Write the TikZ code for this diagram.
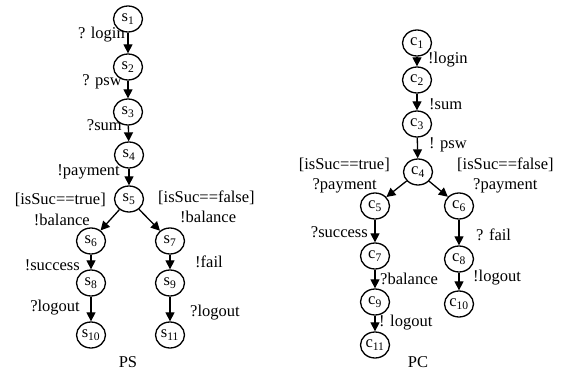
\documentclass[tikz,border=0pt]{standalone}
\usepackage{fontspec}
\setmainfont{Liberation Serif}
\usetikzlibrary{shapes.geometric,arrows.meta}
\begin{document}
\begin{tikzpicture}[
  x=1pt,y=-1pt,
  st/.style={ellipse,draw,line width=1.3pt,minimum width=29pt,minimum height=26pt,inner sep=0pt,font=\fontsize{16.5}{17}\selectfont},
  lbl/.style={inner sep=1pt,font=\fontsize{16.5}{18}\selectfont},
  tr/.style={-{Triangle[length=9pt,width=9pt]},line width=1.3pt}
]
\useasboundingbox (0,0) rectangle (571,374);

% PS
\node[st] (s1) at (128,19) {s\textsubscript{1}};
\node[st] (s2) at (128,67) {s\textsubscript{2}};
\node[st] (s3) at (128,112) {s\textsubscript{3}};
\node[st] (s4) at (129,155) {s\textsubscript{4}};
\node[st] (s5) at (129,199) {s\textsubscript{5}};
\node[st] (s6) at (91,241) {s\textsubscript{6}};
\node[st] (s7) at (170,241) {s\textsubscript{7}};
\node[st] (s8) at (91,283) {s\textsubscript{8}};
\node[st] (s9) at (170,283) {s\textsubscript{9}};
\node[st] (s10) at (91,335) {s\textsubscript{10}};
\node[st] (s11) at (170,335) {s\textsubscript{11}};

\node[lbl,anchor=east] (lLogin) at (126,35) {? login};
\node[lbl,anchor=east] (lPsw) at (123,82) {? psw};
\node[lbl,anchor=east] (lSum) at (123,125) {?sum};
\node[lbl,anchor=east] (lPay) at (121,172) {!payment};
\node[lbl,anchor=east] (lTrue) at (107,200) {[isSuc==true]};
\node[lbl,anchor=east] (lBalL) at (91,220) {!balance};
\node[lbl,anchor=west] (lFalse) at (157,198) {[isSuc==false]};
\node[lbl,anchor=west] (lBalR) at (179,217) {!balance};
\node[lbl,anchor=east] (lSucc) at (81,265) {!success};
\node[lbl,anchor=west] (lFail) at (194,262) {!fail};
\node[lbl,anchor=east] (lOutL) at (81,308) {?logout};
\node[lbl,anchor=west] (lOutR) at (189,313) {?logout};
\node[lbl] (ps) at (128,362) {PS};

\draw[tr] (s1) -- (s2);
\draw[tr] (s2) -- (s3);
\draw[tr] (s3) -- (s4);
\draw[tr] (s4) -- (s5);
\draw[tr] (s5) -- (s6);
\draw[tr] (s5) -- (s7);
\draw[tr] (s6) -- (s8);
\draw[tr] (s8) -- (s10);
\draw[tr] (s7) -- (s9);
\draw[tr] (s9) -- (s11);

% PC
\node[st] (c1) at (417,43) {c\textsubscript{1}};
\node[st] (c2) at (417,80) {c\textsubscript{2}};
\node[st] (c3) at (417,124) {c\textsubscript{3}};
\node[st] (c4) at (418,172) {c\textsubscript{4}};
\node[st] (c5) at (375,206) {c\textsubscript{5}};
\node[st] (c6) at (459,206) {c\textsubscript{6}};
\node[st] (c7) at (375,256) {c\textsubscript{7}};
\node[st] (c8) at (459,259) {c\textsubscript{8}};
\node[st] (c9) at (375,302) {c\textsubscript{9}};
\node[st] (c10) at (459,304) {c\textsubscript{10}};
\node[st] (c11) at (375,345) {c\textsubscript{11}};

\node[lbl,anchor=west] (lLoginC) at (427,60) {!login};
\node[lbl,anchor=west] (lSumC) at (428,104) {!sum};
\node[lbl,anchor=west] (lPswC) at (428,145) {! psw};
\node[lbl,anchor=east] (lTrueC) at (391,165) {[isSuc==true]};
\node[lbl,anchor=east] (lPayL) at (378,186) {?payment};
\node[lbl,anchor=west] (lFalseC) at (456,165) {[isSuc==false]};
\node[lbl,anchor=west] (lPayR) at (472,186) {?payment};
\node[lbl,anchor=east] (lSuccC) at (369,232) {?success};
\node[lbl,anchor=west] (lFailC) at (475,235) {? fail};
\node[lbl,anchor=west] (lBalC) at (379,279) {?balance};
\node[lbl,anchor=west] (lOutC) at (472,278) {!logout};
\node[lbl,anchor=west] (lOutC2) at (378,323) {! logout};
\node[lbl] (pc) at (418,362) {PC};

\draw[tr] (c1) -- (c2);
\draw[tr] (c2) -- (c3);
\draw[tr] (c3) -- (c4);
\draw[tr] (c4) -- (c5);
\draw[tr] (c4) -- (c6);
\draw[tr] (c5) -- (c7);
\draw[tr] (c7) -- (c9);
\draw[tr] (c9) -- (c11);
\draw[tr] (c6) -- (c8);
\draw[tr] (c8) -- (c10);

\end{tikzpicture}
\end{document}
